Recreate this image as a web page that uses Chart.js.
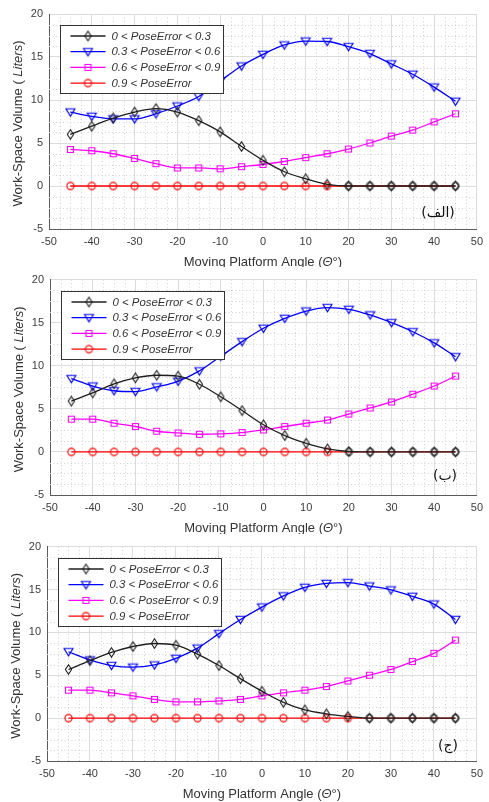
<!DOCTYPE html>
<html>
<head>
<meta charset="utf-8">
<script src="https://cdn.jsdelivr.net/npm/chart.js@4.4.1/dist/chart.umd.min.js"></script>
<style>
html, body { margin: 0; padding: 0; background: #fff; }
#wrap { position: relative; width: 489px; height: 802px; overflow: hidden; }
.panel { position: absolute; left: 0; width: 489px; }
.tag { position: absolute; font-family: "DejaVu Sans"; font-size: 14px; color: #111;
       direction: rtl; line-height: 1; white-space: nowrap; transform: translate(-50%, -50%); }
</style>
</head>
<body>
<div id="wrap">
  <div class="panel" style="top:0;height:267px"><canvas id="c1" width="489" height="267"></canvas></div>
  <div class="panel" style="top:267px;height:267px"><canvas id="c2" width="489" height="267"></canvas></div>
  <div class="panel" style="top:534px;height:268px"><canvas id="c3" width="489" height="268"></canvas></div>
  <div class="tag" id="t1" style="left:438px;top:212px"></div>
  <div class="tag" id="t2" style="left:445px;top:475px"></div>
  <div class="tag" id="t3" style="left:448px;top:745px"></div>
</div>
<script>
// Work-space volume vs. moving platform angle, three cases

const angles = [-45, -40, -35, -30, -25, -20, -15, -10, -5, 0, 5, 10, 15, 20, 25, 30, 35, 40, 45];
const seriesLabels = ['0 < PoseError < 0.3', '0.3 < PoseError < 0.6', '0.6 < PoseError < 0.9', '0.9 < PoseError'];
const panelTags = ['(الف)', '(ب)', '(ج)'];

// panel (الف)
const volA1 = [6.0, 6.95, 7.9, 8.6, 9.0, 8.6, 7.6, 6.3, 4.6, 3.0, 1.66, 0.85, 0.2, 0, 0, 0, 0, 0, 0];
const volA2 = [8.6, 8.1, 7.8, 7.8, 8.4, 9.3, 10.4, 12.2, 13.95, 15.3, 16.4, 16.85, 16.8, 16.2, 15.4, 14.2, 13.0, 11.5, 9.85];
const volA3 = [4.25, 4.1, 3.75, 3.2, 2.6, 2.1, 2.1, 2.0, 2.25, 2.5, 2.85, 3.3, 3.75, 4.3, 5.0, 5.8, 6.5, 7.45, 8.4];
const volA4 = [0, 0, 0, 0, 0, 0, 0, 0, 0, 0, 0, 0, 0, 0, 0, 0, 0, 0, 0];

// panel (ب)
const volB1 = [5.9, 6.85, 7.9, 8.6, 8.9, 8.8, 7.85, 6.4, 4.8, 3.15, 1.9, 1.0, 0.35, 0.05, 0, 0, 0, 0, 0];
const volB2 = [8.5, 7.65, 7.1, 7.0, 7.55, 8.2, 9.4, 11.1, 12.8, 14.35, 15.5, 16.35, 16.75, 16.55, 15.9, 15.0, 13.95, 12.65, 11.05];
const volB3 = [3.8, 3.8, 3.33, 2.95, 2.4, 2.2, 2.05, 2.1, 2.25, 2.55, 2.95, 3.33, 3.7, 4.4, 5.1, 5.8, 6.7, 7.65, 8.8];
const volB4 = [0, 0, 0, 0, 0, 0, 0, 0, 0, 0, 0, 0, 0, 0, 0, 0, 0, 0, 0];

// panel (ج)
const volC1 = [5.67, 6.7, 7.66, 8.35, 8.7, 8.5, 7.47, 6.13, 4.6, 3.14, 1.84, 0.96, 0.5, 0.2, 0, 0, 0, 0, 0];
const volC2 = [7.74, 6.78, 6.13, 5.94, 6.2, 6.97, 8.16, 9.85, 11.5, 12.95, 14.25, 15.25, 15.7, 15.8, 15.4, 14.95, 14.2, 13.3, 11.5];
const volC3 = [3.26, 3.26, 2.95, 2.6, 2.18, 1.9, 1.9, 2.0, 2.18, 2.6, 2.95, 3.26, 3.68, 4.33, 5.0, 5.67, 6.6, 7.55, 9.1];
const volC4 = [0, 0, 0, 0, 0, 0, 0, 0, 0, 0, 0, 0, 0, 0, 0, 0, 0, 0, 0];

const FONT = '"Liberation Sans", Arial, sans-serif';
const colors = ['#1e1e1e', '#0000ff', '#ff00ff', '#ff0000'];
const shapes = ['diamond', 'tri', 'square', 'circle'];

// matlab-ish hollow markers as small canvases
function makeMarker(shape, color) {
    const c = document.createElement('canvas');
    c.width = 13; c.height = 13;
    const g = c.getContext('2d');
    g.strokeStyle = color;
    g.lineWidth = 1.1;
    g.beginPath();
    if (shape === 'diamond') {
        g.moveTo(6.5, 1.8); g.lineTo(9.6, 6.5); g.lineTo(6.5, 11.2); g.lineTo(3.4, 6.5); g.closePath();
    } else if (shape === 'tri') {
        g.moveTo(2, 3.2); g.lineTo(11, 3.2); g.lineTo(6.5, 10.6); g.closePath();
    } else if (shape === 'square') {
        g.rect(3.5, 3.5, 6, 6);
    } else {
        g.arc(6.5, 6.5, 3.6, 0, Math.PI * 2);
    }
    g.stroke();
    return c;
}

const markers = shapes.map((s, i) => makeMarker(s, colors[i]));
const darkCircle = makeMarker('circle', '#3a3a3a');

function drawRich(ctx, parts, x, y, angle) {
    ctx.save();
    ctx.translate(x, y);
    ctx.rotate(angle);
    let total = 0;
    parts.forEach(p => { ctx.font = p.font; total += ctx.measureText(p.text).width; });
    let cx = -total / 2;
    ctx.textBaseline = 'middle';
    ctx.textAlign = 'left';
    ctx.fillStyle = '#333';
    parts.forEach(p => {
        ctx.font = p.font;
        ctx.fillText(p.text, cx, 0);
        cx += ctx.measureText(p.text).width;
    });
    ctx.restore();
}

const paperPlugin = {
    id: 'paper',
    beforeDatasetsDraw(chart) {
        // dotted minor grid
        const { ctx, chartArea: a, scales: { x, y } } = chart;
        ctx.save();
        ctx.strokeStyle = '#d2d2d2';
        ctx.lineWidth = 1;
        ctx.setLineDash([1, 2.5]);
        ctx.beginPath();
        for (let v = x.min; v <= x.max; v += 2.5) {
            if (v % 10 === 0) continue;
            const px = Math.round(x.getPixelForValue(v)) + 0.5;
            ctx.moveTo(px, a.top); ctx.lineTo(px, a.bottom);
        }
        for (let v = y.min; v <= y.max; v += 1.25) {
            if (v % 5 === 0) continue;
            const py = Math.round(y.getPixelForValue(v)) + 0.5;
            ctx.moveTo(a.left, py); ctx.lineTo(a.right, py);
        }
        ctx.stroke();
        ctx.restore();
    },
    afterDatasetsDraw(chart) {
        // boxed legend inside the axes, top left
        const { ctx, chartArea: a } = chart;
        const lx = Math.round(a.left + 11) + 0.5, ly = Math.round(a.top + 11) + 0.5;
        ctx.save();
        ctx.fillStyle = '#fff';
        ctx.fillRect(lx, ly, 163, 68);
        ctx.strokeStyle = '#333';
        ctx.lineWidth = 1;
        ctx.strokeRect(lx, ly, 163, 68);
        chart.data.datasets.forEach((ds, i) => {
            const cy = ly + 10.5 + i * 15.7;
            ctx.strokeStyle = ds.borderColor;
            ctx.lineWidth = 1.3;
            ctx.beginPath();
            ctx.moveTo(lx + 10, cy); ctx.lineTo(lx + 45, cy);
            ctx.stroke();
            const m = ds.legendMarker;
            ctx.drawImage(m, lx + 27.5 - m.width / 2, cy - m.height / 2);
            ctx.font = 'italic 11.4px ' + FONT;
            ctx.fillStyle = '#333';
            ctx.textBaseline = 'middle';
            ctx.fillText(ds.label, lx + 51, cy + 0.5);
        });
        ctx.restore();
    },
    afterDraw(chart) {
        const { ctx, chartArea: a } = chart;
        const f = '13px ' + FONT, fi = 'italic 13px ' + FONT;
        drawRich(ctx, [
            { text: 'Moving Platform Angle (', font: f },
            { text: 'Θ', font: fi },
            { text: '°)', font: f }
        ], (a.left + a.right) / 2, a.bottom + 33, 0);
        drawRich(ctx, [
            { text: 'Work-Space Volume ( ', font: f },
            { text: 'Liters', font: fi },
            { text: ')', font: f }
        ], a.left - 31, (a.top + a.bottom) / 2 + 2, -Math.PI / 2);
    }
};

function makePanel(canvasId, vals, box, redCut) {
    const datasets = vals.map((v, i) => ({
        label: seriesLabels[i],
        data: angles.map((a, k) => ({ x: a, y: v[k] })),
        borderColor: colors[i],
        borderWidth: 1.3,
        backgroundColor: 'transparent',
        fill: false,
        cubicInterpolationMode: 'monotone',
        pointRadius: 4,
        pointStyle: i === 3 ? angles.map(a => (a <= redCut ? markers[3] : darkCircle)) : markers[i],
        legendMarker: markers[i]
    }));

    return new Chart(document.getElementById(canvasId), {
        type: 'line',
        data: { datasets: datasets },
        plugins: [paperPlugin],
        options: {
            responsive: false,
            animation: false,
            events: [],
            layout: { padding: { top: box.T, right: 489 - box.R, left: 0, bottom: 0 } },
            plugins: { legend: { display: false }, tooltip: { enabled: false } },
            scales: {
                x: {
                    type: 'linear',
                    min: -50, max: 50,
                    afterFit: s => { s.height = box.H - box.B; },
                    ticks: { stepSize: 10, color: '#3c3c3c', padding: 6, maxRotation: 0, autoSkip: false,
                             font: { family: FONT, size: 11 } },
                    grid: { color: '#dcdcdc', drawTicks: false },
                    border: { color: '#5a5a5a' }
                },
                y: {
                    type: 'linear',
                    min: -5, max: 20,
                    afterFit: s => { s.width = box.L; },
                    ticks: { stepSize: 5, color: '#3c3c3c', padding: 6,
                             font: { family: FONT, size: 11 } },
                    grid: { color: '#dcdcdc', drawTicks: false },
                    border: { color: '#5a5a5a' }
                }
            }
        }
    });
}

makePanel('c1', [volA1, volA2, volA3, volA4], { H: 267, L: 49, R: 479, T: 14, B: 229 }, 15);
makePanel('c2', [volB1, volB2, volB3, volB4], { H: 267, L: 50, R: 482, T: 11, B: 228 }, 15);
makePanel('c3', [volC1, volC2, volC3, volC4], { H: 268, L: 47, R: 479, T: 12, B: 227 }, 20);

panelTags.forEach((t, i) => { document.getElementById('t' + (i + 1)).textContent = t; });
</script>
</body>
</html>
